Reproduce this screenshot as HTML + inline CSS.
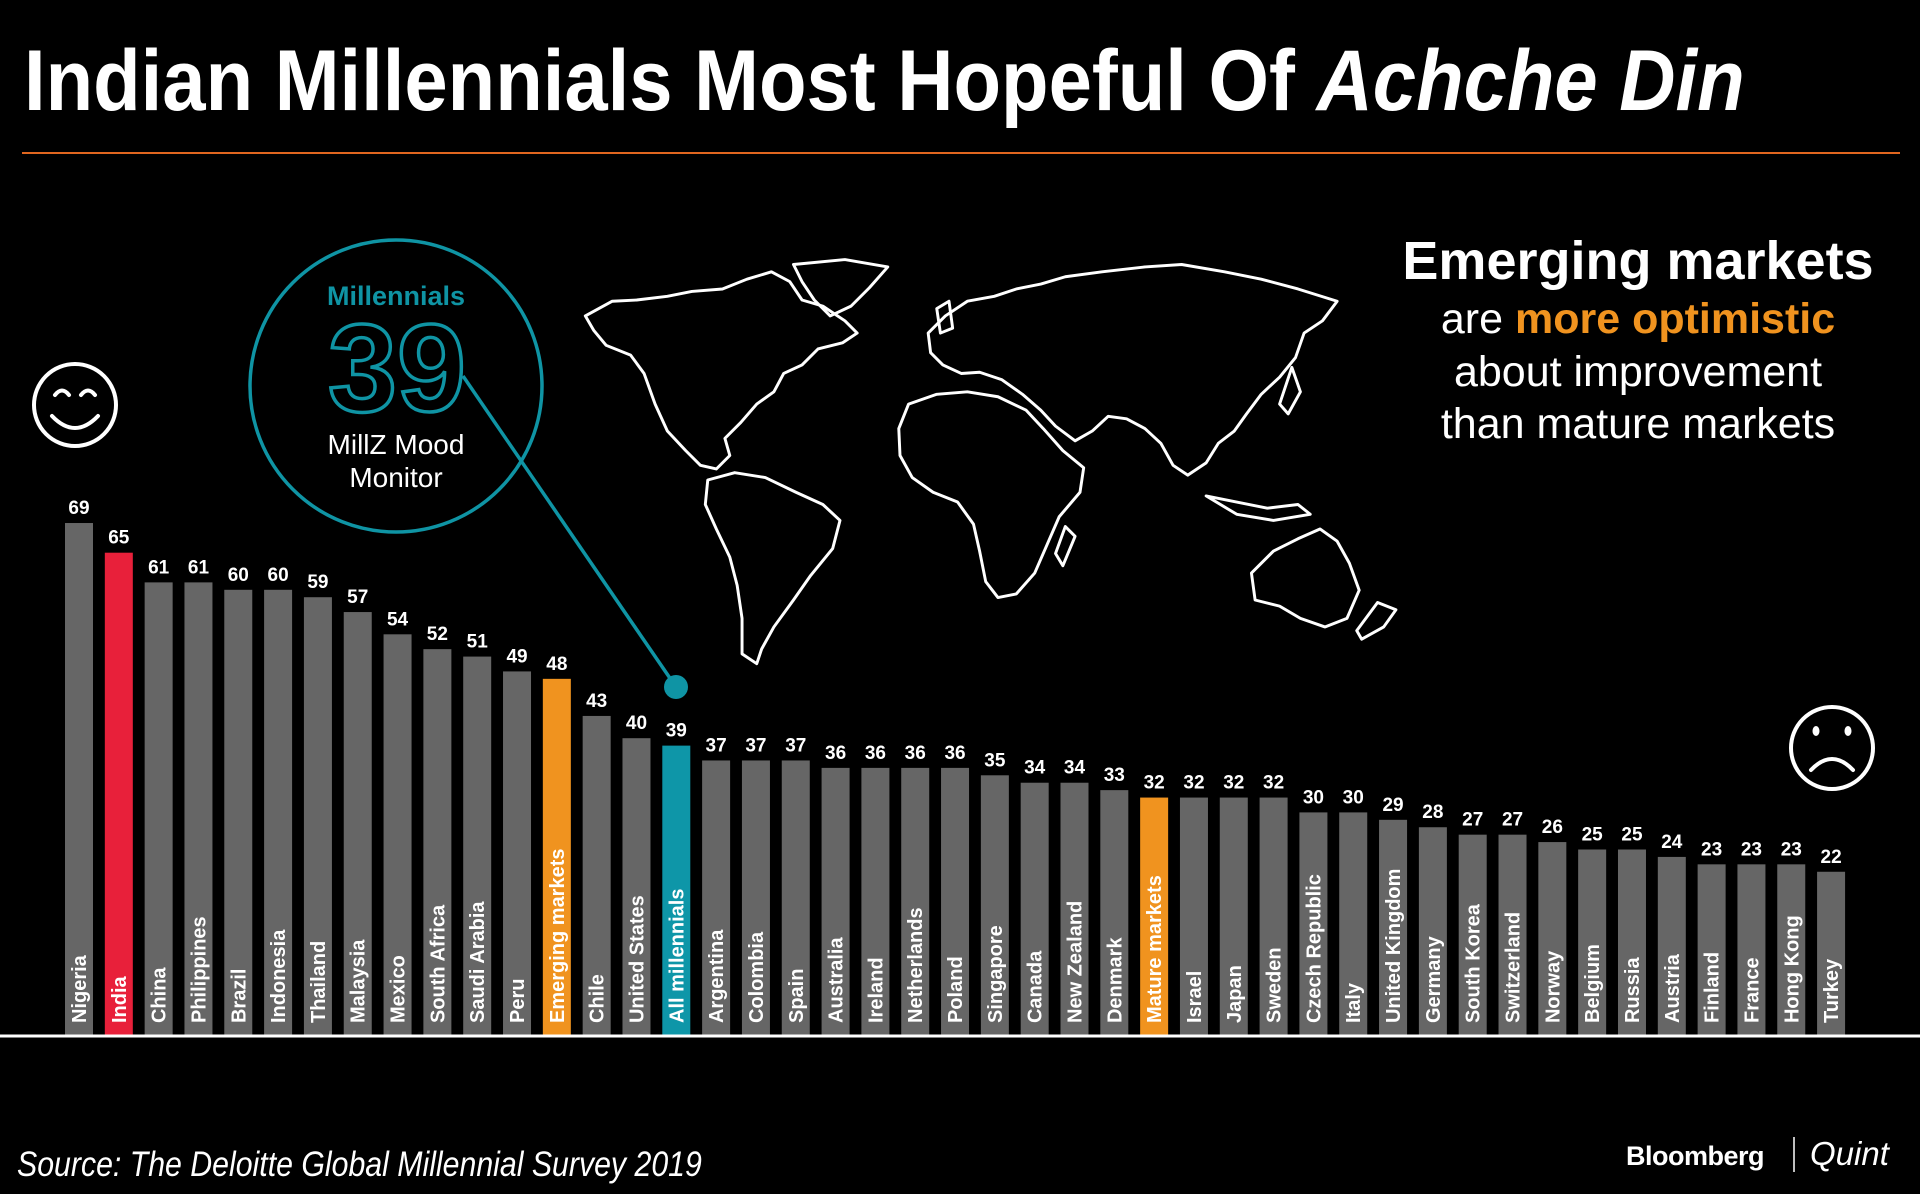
<!DOCTYPE html>
<html><head><meta charset="utf-8"><style>
html,body{margin:0;padding:0;background:#000;}
svg{display:block;}
text{font-family:"Liberation Sans",sans-serif;}
</style></head><body>
<svg id="chart" width="1920" height="1194" viewBox="0 0 1920 1194">
<rect x="0" y="0" width="1920" height="1194" fill="#000"/>
<text x="24" y="110" fill="#fff" font-size="86" font-weight="bold" transform="translate(24 0) scale(0.905 1) translate(-24 0)">Indian Millennials Most Hopeful Of <tspan font-style="italic">Achche Din</tspan></text>
<line x1="22" y1="153" x2="1900" y2="153" stroke="#e0661f" stroke-width="2"/>

<g transform="scale(1.2245)" fill="none" stroke="#fff" stroke-width="2.4" stroke-linejoin="round">
<path d="M478,258 L500,246 520,245 545,242 565,238 590,236 610,228 630,222 645,230 655,245 672,250 690,262 700,272 688,280 668,285 655,298 640,305 632,320 618,330 605,345 592,358 596,372 585,383 572,380 560,368 545,352 535,330 526,305 515,290 495,282 485,270 Z"/>
<path d="M648,216 L690,212 725,218 710,235 695,250 678,258 665,245 655,230 Z"/>
<path d="M578,392 L600,386 625,390 650,402 672,412 686,425 680,448 662,470 648,490 632,512 622,530 618,542 606,534 606,505 602,478 596,455 585,432 576,412 Z"/>
<path d="M758,272 L772,258 790,246 812,242 830,236 850,232 870,226 900,222 935,218 965,216 1000,222 1030,228 1060,236 1092,246 1080,262 1065,272 1058,292 1045,308 1030,322 1018,338 1008,352 995,362 985,378 970,388 958,380 948,362 935,350 920,342 905,340 892,352 878,360 862,348 850,335 835,322 818,310 800,304 785,305 770,298 760,288 Z"/>
<path d="M742,330 L765,322 790,320 815,324 838,335 852,350 868,368 885,382 882,402 865,422 855,445 845,468 830,485 815,488 805,475 800,450 795,428 782,410 762,402 745,390 735,372 734,350 Z"/>
<path d="M1022,468 L1040,450 1060,440 1078,432 1092,442 1102,460 1110,482 1100,505 1082,512 1062,505 1045,495 1025,490 Z"/>
<path d="M1125,492 L1140,498 1130,512 1112,522 1108,515 Z"/>
<path d="M1055,300 L1062,320 1052,338 1045,330 Z"/>
<path d="M765,252 L775,246 778,268 768,272 Z"/>
<path d="M870,430 L878,438 868,462 862,452 Z"/>
<path d="M985,405 L1010,410 1035,415 1060,412 1070,420 1040,425 1010,420 Z"/>
</g>

<g>
<circle cx="396" cy="386" r="146" fill="none" stroke="#0f94a4" stroke-width="3.5"/>
<text x="396" y="305" text-anchor="middle" fill="#0f94a4" font-size="27" font-weight="bold">Millennials</text>
<text x="397" y="411" text-anchor="middle" fill="none" stroke="#0f94a4" stroke-width="3.5" font-size="124" font-weight="bold">39</text>
<text x="396" y="454" text-anchor="middle" fill="#fff" font-size="28">MillZ Mood</text>
<text x="396" y="487" text-anchor="middle" fill="#fff" font-size="28">Monitor</text>
<line x1="463" y1="376" x2="676" y2="687" stroke="#0f94a4" stroke-width="3.5"/>
<circle cx="676" cy="687" r="12" fill="#0f94a4"/>
</g>

<g fill="none" stroke="#fff" stroke-width="4">
<circle cx="75" cy="405" r="41"/>
<path d="M55,395 q7,-9 14,0 M81,395 q7,-9 14,0 M52,416 q23,24 46,0" stroke-linecap="round"/>
</g>
<g fill="none" stroke="#fff" stroke-width="4">
<circle cx="1832" cy="748" r="41"/>
<ellipse cx="1816" cy="731" rx="3.5" ry="5" fill="#fff" stroke="none"/>
<ellipse cx="1848" cy="731" rx="3.5" ry="5" fill="#fff" stroke="none"/>
<path d="M1811,770 q21,-22 42,0" stroke-linecap="round"/>
</g>

<g text-anchor="middle">
<text x="1638" y="279" fill="#fff" font-size="54" font-weight="bold">Emerging markets</text>
<text x="1638" y="333" fill="#fff" font-size="43">are <tspan fill="#f0931f" font-weight="bold">more optimistic</tspan></text>
<text x="1638" y="386" fill="#fff" font-size="43">about improvement</text>
<text x="1638" y="438" fill="#fff" font-size="43">than mature markets</text>
</g>

<g id="bars"></g>
<line x1="0" y1="1036" x2="1920" y2="1036" stroke="#fff" stroke-width="3"/>

<text x="17" y="1176" fill="#fff" font-size="35" font-style="italic" transform="translate(17 0) scale(0.865 1) translate(-17 0)">Source: The Deloitte Global Millennial Survey 2019</text>
<text x="1626" y="1165" fill="#fff" font-size="27" font-weight="bold" letter-spacing="-0.5">Bloomberg</text>
<line x1="1794" y1="1137" x2="1794" y2="1172" stroke="#fff" stroke-width="1.5"/>
<text x="1810" y="1165" fill="#fff" font-size="33" font-style="italic" font-family="Liberation Serif, serif">Quint</text>
</svg>
<script>
const categories = ["Nigeria","India","China","Philippines","Brazil","Indonesia","Thailand","Malaysia","Mexico","South Africa","Saudi Arabia","Peru","Emerging markets","Chile","United States","All millennials","Argentina","Colombia","Spain","Australia","Ireland","Netherlands","Poland","Singapore","Canada","New Zealand","Denmark","Mature markets","Israel","Japan","Sweden","Czech Republic","Italy","United Kingdom","Germany","South Korea","Switzerland","Norway","Belgium","Russia","Austria","Finland","France","Hong Kong","Turkey"];
const values = [69,65,61,61,60,60,59,57,54,52,51,49,48,43,40,39,37,37,37,36,36,36,36,35,34,34,33,32,32,32,32,30,30,29,28,27,27,26,25,25,24,23,23,23,22];
const highlights = {"India":"#e8203a","Emerging markets":"#f0931f","Mature markets":"#f0931f","All millennials":"#0e96a8"};

const NS = "http://www.w3.org/2000/svg";
const baseY = 1035, perUnit = 7.42, x0 = 65, pitch = 39.82, barW = 28;
const xScale = i => x0 + i * pitch;
const yScale = v => baseY - v * perUnit;
const g = document.getElementById("bars");
categories.forEach((c, i) => {
  const v = values[i];
  const x = xScale(i), y = yScale(v);
  const r = document.createElementNS(NS, "rect");
  r.setAttribute("x", x); r.setAttribute("y", y);
  r.setAttribute("width", barW); r.setAttribute("height", baseY - y);
  r.setAttribute("fill", highlights[c] || "#666666");
  
  
  g.appendChild(r);
  const t = document.createElementNS(NS, "text");
  t.setAttribute("x", x + barW / 2); t.setAttribute("y", y - 9);
  t.setAttribute("text-anchor", "middle"); t.setAttribute("fill", "#fff");
  t.setAttribute("font-size", "19"); t.setAttribute("font-weight", "bold");
  t.textContent = v;
  
  
  g.appendChild(t);
  const l = document.createElementNS(NS, "text");
  const lx = x + barW / 2 + 7, ly = baseY - 12;
  l.setAttribute("x", lx); l.setAttribute("y", ly);
  l.setAttribute("transform", "rotate(-90 " + lx + " " + ly + ")");
  l.setAttribute("fill", "#fff"); l.setAttribute("font-size", "20"); l.setAttribute("font-weight", "bold");
  l.textContent = c;
  
  
  g.appendChild(l);
});
</script>
</body></html>
